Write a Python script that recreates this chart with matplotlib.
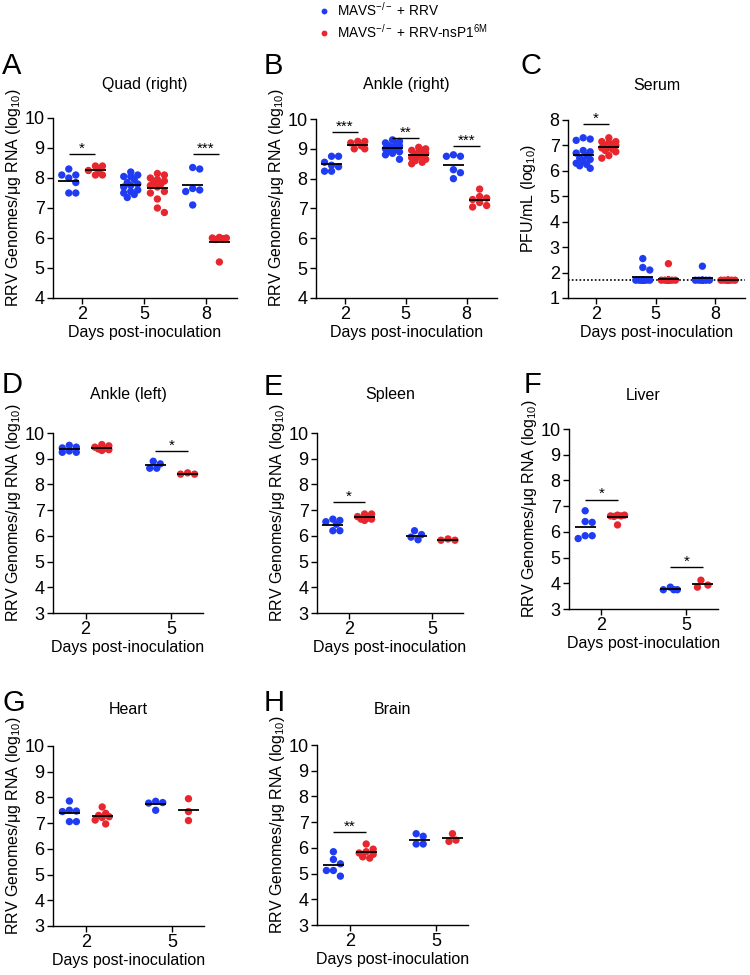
import matplotlib
matplotlib.use('Agg')
import matplotlib.pyplot as plt
import numpy as np
from matplotlib.lines import Line2D

plt.rcParams['font.family'] = ['Liberation Sans', 'DejaVu Sans']
plt.rcParams['mathtext.fontset'] = 'custom'
plt.rcParams['mathtext.rm'] = 'Liberation Sans'
plt.rcParams['mathtext.it'] = 'Liberation Sans:italic'
plt.rcParams['mathtext.bf'] = 'Liberation Sans:bold'

BLUE = '#1f3cf2'
RED = '#e8262d'

LEGEND_LABELS = ['MAVS$^{\\mathrm{-/-}}$ + RRV', 'MAVS$^{\\mathrm{-/-}}$ + RRV-nsP1$^{\\mathrm{6M}}$']
YLABEL_RNA = 'RRV Genomes/\u03bcg RNA (log$_{\\mathrm{10}}$)'
YLABEL_PFU = 'PFU/mL (log$_{\\mathrm{10}}$)'
XLABEL = 'Days post-inoculation'

# ---------------- data ----------------
A_days = ['2', '5', '8']
A_rrv = [[8.3, 8.1, 8.1, 8.0, 7.85, 7.5, 7.5],
         [8.2, 8.1, 8.05, 8.05, 7.95, 7.85, 7.8, 7.75, 7.7, 7.6, 7.55, 7.5, 7.45, 7.35],
         [8.35, 8.3, 7.65, 7.6, 7.55, 7.1]]
A_nsp = [[8.4, 8.4, 8.25, 8.25, 8.1, 8.1],
         [8.15, 8.1, 8.0, 7.95, 7.9, 7.85, 7.8, 7.75, 7.7, 7.55, 7.5, 7.3, 7.0, 6.85],
         [6.02, 6.0, 6.0, 5.98, 5.95, 5.2]]
A_sig = [(0, '*', 8.8), (2, '***', 8.8)]

B_days = ['2', '5', '8']
B_rrv = [[8.75, 8.75, 8.55, 8.45, 8.4, 8.25, 8.25],
         [9.3, 9.25, 9.2, 9.15, 9.1, 9.1, 9.05, 9.0, 9.0, 8.95, 8.9, 8.85, 8.8, 8.65],
         [8.8, 8.75, 8.75, 8.3, 8.2, 8.0]]
B_nsp = [[9.25, 9.25, 9.2, 9.1, 9.0, 9.0],
         [9.05, 9.0, 8.95, 8.95, 8.9, 8.85, 8.8, 8.8, 8.75, 8.7, 8.65, 8.6, 8.55, 8.5],
         [7.65, 7.4, 7.35, 7.3, 7.2, 7.1, 7.05]]
B_sig = [(0, '***', 9.55), (1, '**', 9.35), (2, '***', 9.1)]

C_days = ['2', '5', '8']
C_rrv = [[7.3, 7.25, 7.2, 6.8, 6.75, 6.7, 6.6, 6.5, 6.45, 6.4, 6.3, 6.25, 6.2, 6.1],
         [2.55, 2.2, 2.1, 1.7, 1.7, 1.7, 1.7, 1.7, 1.7, 1.7, 1.7, 1.7, 1.7, 1.7],
         [2.25, 1.7, 1.7, 1.7, 1.7, 1.7, 1.7, 1.7]]
C_nsp = [[7.3, 7.15, 7.15, 7.1, 7.05, 7.0, 7.0, 6.95, 6.9, 6.85, 6.8, 6.75, 6.6, 6.5],
         [2.35, 1.7, 1.7, 1.7, 1.7, 1.7, 1.7, 1.7, 1.7, 1.7, 1.7, 1.7, 1.7, 1.7],
         [1.7, 1.7, 1.7, 1.7, 1.7, 1.7, 1.7, 1.7]]
C_sig = [(0, '*', 7.85)]
C_lod = 1.7

D_days = ['2', '5']
D_rrv = [[9.52, 9.45, 9.42, 9.3, 9.25, 9.25], [8.9, 8.8, 8.63, 8.63]]
D_nsp = [[9.55, 9.5, 9.45, 9.4, 9.38, 9.35, 9.32], [8.45, 8.4, 8.4]]
D_sig = [(1, '*', 9.3)]

E_days = ['2', '5']
E_rrv = [[6.65, 6.6, 6.55, 6.45, 6.2, 6.2], [6.2, 6.05, 5.95, 5.85]]
E_nsp = [[6.85, 6.85, 6.75, 6.7, 6.65, 6.65, 6.6], [5.88, 5.83, 5.83]]
E_sig = [(0, '*', 7.3)]

F_days = ['2', '5']
F_rrv = [[6.82, 6.4, 6.37, 5.85, 5.74, 5.85], [3.75, 3.75, 3.75, 3.85]]
F_nsp = [[6.65, 6.62, 6.62, 6.65, 6.6, 6.27], [4.12, 3.85, 3.93]]
F_sig = [(0, '*', 7.25), (1, '*', 4.62)]

G_days = ['2', '5']
G_rrv = [[7.86, 7.5, 7.45, 7.47, 7.06, 7.06], [7.85, 7.8, 7.78, 7.5]]
G_nsp = [[7.63, 7.38, 7.3, 7.25, 7.22, 7.12, 6.97], [7.95, 7.45, 7.1]]
G_sig = []

H_days = ['2', '5']
H_rrv = [[5.85, 5.55, 5.38, 5.12, 5.12, 4.9], [6.55, 6.45, 6.15, 6.15]]
H_nsp = [[6.15, 5.95, 5.85, 5.8, 5.75, 5.65, 5.6], [6.55, 6.3, 6.25]]
H_sig = [(0, '**', 6.6)]

# ---------------- layout ----------------
W, H = 750, 975
fig = plt.figure(figsize=(W / 100, H / 100), dpi=100)

panels = [
    # letter, title, ylabel, days, rrv, nsp, sig, ylim, rect(l,t,r,b), letter_xy, title_y, lod
    ('A', 'Quad (right)', YLABEL_RNA, A_days, A_rrv, A_nsp, A_sig, (4, 10), (53, 118, 237, 298), (2, 66), 85, None),
    ('B', 'Ankle (right)', YLABEL_RNA, B_days, B_rrv, B_nsp, B_sig, (4, 10), (316, 119, 497, 298), (264, 66), 85, None),
    ('C', 'Serum', YLABEL_PFU, C_days, C_rrv, C_nsp, C_sig, (1, 8), (568, 120, 745, 298), (520, 66), 85, C_lod),
    ('D', 'Ankle (left)', YLABEL_RNA, D_days, D_rrv, D_nsp, D_sig, (3, 10), (53, 433, 203, 613), (2, 385), 395, None),
    ('E', 'Spleen', YLABEL_RNA, E_days, E_rrv, E_nsp, E_sig, (3, 10), (317, 433, 463, 613), (264, 387), 395, None),
    ('F', 'Liver', YLABEL_RNA, F_days, F_rrv, F_nsp, F_sig, (3, 10), (569, 429, 718, 609), (524, 385), 395, None),
    ('G', 'Heart', YLABEL_RNA, G_days, G_rrv, G_nsp, G_sig, (3, 10), (53, 746, 204, 926), (2, 703), 710, None),
    ('H', 'Brain', YLABEL_RNA, H_days, H_rrv, H_nsp, H_sig, (3, 10), (317, 745, 468, 925), (264, 703), 710, None),
]


def swarm_x(vals, center, pxx, pxy, diam=7.0, maxhalf=9.5):
    vals = np.asarray(vals, float)
    order = np.argsort(-vals, kind='stable')
    step = diam * 0.5
    nmax = int(maxhalf // step)
    cands = [0.0]
    for k in range(1, nmax + 1):
        cands += [k * step, -k * step]
    placed = []
    offs = np.zeros(len(vals))
    for idx in order:
        y = vals[idx] * pxy
        best, bestd = 0.0, -1.0
        for c in cands:
            if not placed:
                dmin = np.inf
            else:
                dmin = min(np.hypot(c - px, y - py) for px, py in placed)
            if dmin >= diam:
                best = c
                break
            if dmin > bestd:
                bestd, best = dmin, c
        placed.append((best, y))
        offs[idx] = best
    offs -= (offs.max() + offs.min()) / 2.0
    return center + offs / pxx


for (letter, title, ylabel, days, rrv, nsp, sig, ylim, rect, lxy, ty, lod) in panels:
    l, t, r, b = rect
    ax = fig.add_axes([l / W, 1 - b / H, (r - l) / W, (b - t) / H])
    n = len(days)
    if n == 3:
        xlim = (-0.47, 2.5)
        off = 0.215
    else:
        xlim = (-0.38, 1.37)
        off = 0.19
    ax.set_xlim(*xlim)
    ax.set_ylim(*ylim)
    pxx = (r - l) / (xlim[1] - xlim[0])
    pxy = (b - t) / (ylim[1] - ylim[0])

    if lod is not None:
        ax.axhline(lod, color='black', lw=1.2, ls=(0, (1, 1.3)), zorder=2)

    for i in range(n):
        for vals, sgn, col in ((rrv[i], -1, BLUE), (nsp[i], 1, RED)):
            cx = i + sgn * off
            xs = swarm_x(vals, cx, pxx, pxy)
            ax.scatter(xs, vals, s=28, color=col, edgecolors='none', zorder=3, clip_on=False)
            m = float(np.mean(vals))
            ax.hlines(m, cx - 10.5 / pxx, cx + 10.5 / pxx, color='black', lw=1.3, zorder=4)

    for (i, stars, y) in sig:
        ax.hlines(y, i - off, i + off, color='black', lw=1.0, zorder=4)
        ax.text(i, y + 1.5 / pxy, stars, ha='center', va='baseline', fontsize=11)

    ax.set_xticks(range(n))
    ax.set_xticklabels(days)
    ax.set_yticks(np.arange(ylim[0], ylim[1] + 1, 1))
    for s in ('top', 'right'):
        ax.spines[s].set_visible(False)
    for s in ('left', 'bottom'):
        ax.spines[s].set_linewidth(1.0)
    ax.tick_params(direction='out', length=4, width=1.0, labelsize=13, pad=2)

    ax.set_ylabel(ylabel, fontsize=11.5)
    ax.yaxis.set_label_coords(-30.0 / (r - l), 0.56)
    ax.set_xlabel(XLABEL, fontsize=11.5)
    ax.xaxis.set_label_coords(0.5, -27.0 / (b - t))

    fig.text(((l + r) / 2) / W, 1 - ty / H, title, ha='center', va='center', fontsize=11.5)
    fig.text(lxy[0] / W, 1 - lxy[1] / H, letter, ha='left', va='center', fontsize=21)

handles = [Line2D([], [], marker='o', ls='', color=BLUE, markersize=4.2, markeredgewidth=0),
           Line2D([], [], marker='o', ls='', color=RED, markersize=4.2, markeredgewidth=0)]
fig.legend(handles, LEGEND_LABELS, loc='upper left', bbox_to_anchor=(319 / W, 1 - 1 / H),
           frameon=False, fontsize=9.8, handlelength=0.8, handletextpad=0.55,
           labelspacing=0.3, borderpad=0, borderaxespad=0)

fig.savefig('out.png', dpi=100)
